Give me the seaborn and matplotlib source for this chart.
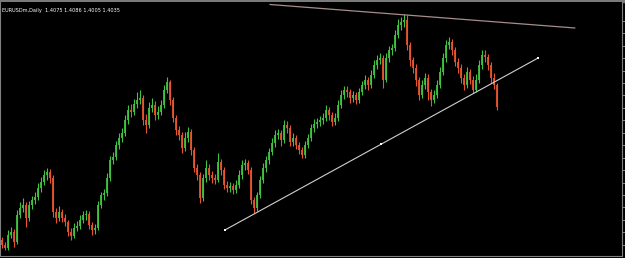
import numpy as np
import pandas as pd
import matplotlib
matplotlib.use("Agg")
import matplotlib.pyplot as plt
import seaborn as sns

# ---- data (price per bar) ----
first_open = 1.270
closes = [1.265, 1.262, 1.275, 1.278, 1.268, 1.295, 1.302, 1.305, 1.292, 1.305,
          1.310, 1.313, 1.322, 1.328, 1.335, 1.338, 1.332, 1.298, 1.292, 1.298,
          1.292, 1.288, 1.278, 1.274, 1.282, 1.284, 1.290, 1.295, 1.296, 1.285,
          1.280, 1.282, 1.305, 1.315, 1.317, 1.332, 1.350, 1.353, 1.365, 1.372,
          1.377, 1.390, 1.400, 1.398, 1.406, 1.410, 1.412, 1.390, 1.385, 1.402,
          1.405, 1.395, 1.398, 1.405, 1.420, 1.428, 1.410, 1.392, 1.380, 1.375,
          1.362, 1.372, 1.378, 1.360, 1.342, 1.335, 1.312, 1.332, 1.342, 1.335,
          1.332, 1.330, 1.348, 1.340, 1.325, 1.322, 1.324, 1.320, 1.325, 1.335,
          1.345, 1.347, 1.340, 1.310, 1.302, 1.315, 1.330, 1.342, 1.350, 1.358,
          1.367, 1.375, 1.377, 1.370, 1.385, 1.382, 1.368, 1.372, 1.365, 1.360,
          1.355, 1.365, 1.372, 1.382, 1.386, 1.388, 1.390, 1.392, 1.400, 1.395,
          1.388, 1.392, 1.405, 1.415, 1.420, 1.418, 1.412, 1.415, 1.410, 1.418,
          1.425, 1.430, 1.425, 1.435, 1.445, 1.450, 1.452, 1.430, 1.452, 1.460,
          1.462, 1.475, 1.485, 1.488, 1.490, 1.465, 1.450, 1.442, 1.430, 1.415,
          1.425, 1.432, 1.418, 1.410, 1.415, 1.425, 1.438, 1.452, 1.465, 1.468,
          1.460, 1.448, 1.442, 1.432, 1.425, 1.438, 1.430, 1.420, 1.430, 1.445,
          1.455, 1.453, 1.445, 1.432, 1.425, 1.4035]
highs = [1.273, 1.268, 1.280, 1.283, 1.281, 1.300, 1.308, 1.312, 1.308, 1.309,
         1.314, 1.318, 1.327, 1.333, 1.340, 1.342, 1.341, 1.335, 1.302, 1.304,
         1.301, 1.296, 1.290, 1.282, 1.287, 1.289, 1.295, 1.299, 1.300, 1.299,
         1.288, 1.286, 1.309, 1.318, 1.321, 1.337, 1.354, 1.358, 1.369, 1.377,
         1.382, 1.395, 1.405, 1.406, 1.411, 1.418, 1.420, 1.415, 1.396, 1.408,
         1.412, 1.409, 1.404, 1.410, 1.425, 1.433, 1.430, 1.413, 1.395, 1.384,
         1.378, 1.378, 1.383, 1.381, 1.363, 1.346, 1.338, 1.336, 1.350, 1.346,
         1.339, 1.336, 1.357, 1.351, 1.343, 1.329, 1.328, 1.327, 1.330, 1.340,
         1.350, 1.351, 1.350, 1.343, 1.313, 1.318, 1.334, 1.347, 1.354, 1.362,
         1.372, 1.380, 1.381, 1.380, 1.390, 1.389, 1.385, 1.377, 1.375, 1.368,
         1.363, 1.369, 1.376, 1.386, 1.391, 1.392, 1.394, 1.397, 1.405, 1.403,
         1.398, 1.397, 1.410, 1.420, 1.424, 1.424, 1.421, 1.419, 1.418, 1.422,
         1.429, 1.435, 1.433, 1.440, 1.450, 1.455, 1.457, 1.455, 1.457, 1.464,
         1.466, 1.480, 1.491, 1.493, 1.496, 1.495, 1.468, 1.453, 1.446, 1.433,
         1.430, 1.437, 1.436, 1.421, 1.420, 1.430, 1.443, 1.457, 1.470, 1.473,
         1.471, 1.463, 1.452, 1.446, 1.436, 1.443, 1.441, 1.434, 1.436, 1.450,
         1.460, 1.460, 1.456, 1.448, 1.437, 1.427]
lows = [1.262, 1.260, 1.260, 1.272, 1.263, 1.266, 1.292, 1.298, 1.283, 1.289,
        1.301, 1.306, 1.310, 1.318, 1.325, 1.330, 1.327, 1.293, 1.287, 1.289,
        1.288, 1.284, 1.274, 1.270, 1.272, 1.279, 1.281, 1.287, 1.290, 1.281,
        1.275, 1.276, 1.280, 1.302, 1.310, 1.314, 1.329, 1.346, 1.350, 1.361,
        1.368, 1.374, 1.386, 1.393, 1.395, 1.402, 1.406, 1.385, 1.377, 1.382,
        1.398, 1.390, 1.391, 1.395, 1.402, 1.417, 1.405, 1.388, 1.375, 1.370,
        1.357, 1.359, 1.368, 1.355, 1.338, 1.330, 1.307, 1.309, 1.328, 1.330,
        1.327, 1.326, 1.328, 1.335, 1.321, 1.318, 1.318, 1.316, 1.317, 1.322,
        1.331, 1.340, 1.336, 1.306, 1.297, 1.299, 1.312, 1.327, 1.338, 1.346,
        1.355, 1.363, 1.371, 1.364, 1.367, 1.377, 1.364, 1.364, 1.361, 1.356,
        1.352, 1.352, 1.362, 1.369, 1.378, 1.382, 1.384, 1.386, 1.389, 1.390,
        1.384, 1.385, 1.389, 1.402, 1.411, 1.413, 1.407, 1.408, 1.406, 1.407,
        1.415, 1.421, 1.420, 1.422, 1.432, 1.441, 1.446, 1.422, 1.428, 1.448,
        1.455, 1.459, 1.472, 1.480, 1.483, 1.460, 1.444, 1.437, 1.424, 1.410,
        1.412, 1.421, 1.410, 1.404, 1.407, 1.412, 1.422, 1.435, 1.448, 1.461,
        1.455, 1.444, 1.437, 1.427, 1.420, 1.422, 1.426, 1.417, 1.418, 1.427,
        1.441, 1.448, 1.440, 1.427, 1.421, 1.4005]

# trend lines: (bar index, price)
top_line_x = [89.3, 191.0]
top_line_y = [1.5055, 1.4820]
support_x = [74.3, 126.5, 178.7]
support_y = [1.2800, 1.3660, 1.4520]

title_text = "EURUSDm,Daily  1.4075 1.4086 1.4005 1.4035"

# ---- build table ----
opens = [first_open] + closes[:-1]
df = pd.DataFrame({"bar": np.arange(len(closes)), "open": opens, "close": closes,
                   "high": highs, "low": lows})
df["high"] = df[["high", "open", "close"]].max(axis=1)
df["low"] = df[["low", "open", "close"]].min(axis=1)
df["dir"] = np.where(df["close"] >= df["open"], "up", "down")

sns.set_style("dark", {"axes.facecolor": "black", "figure.facecolor": "#808080",
                       "axes.edgecolor": "#808080", "grid.color": "black"})

fig = plt.figure(figsize=(6.25, 2.58), dpi=100)
ax = fig.add_axes([0.0, 2 / 258, 622 / 625, 254 / 258])
ax.set_facecolor("black")
fig.patch.set_facecolor("black")
# top grey strip
fig.add_artist(plt.Rectangle((0, 256 / 258), 1, 2 / 258, transform=fig.transFigure,
                             color="#7a7a7a", zorder=0))

palette = {"up": "#3fc43f", "down": "#e8542c"}
for d, sub in df.groupby("dir"):
    ax.vlines(sub["bar"], sub["low"], sub["high"], color=palette[d], linewidth=0.8)
    ax.vlines(sub["bar"], sub[["open", "close"]].min(axis=1),
              sub[["open", "close"]].max(axis=1), color=palette[d], linewidth=1.3)

tl = pd.DataFrame({"x": top_line_x, "y": top_line_y})
sns.lineplot(data=tl, x="x", y="y", ax=ax, color="#a88c8c", linewidth=0.9)
sl = pd.DataFrame({"x": support_x, "y": support_y})
sns.lineplot(data=sl, x="x", y="y", ax=ax, color="#cfcfcf", linewidth=0.8)
sns.scatterplot(data=sl, x="x", y="y", ax=ax, color="white", marker="s", s=3,
                linewidth=0, zorder=5)

ax.set_xlim(-0.667, 206.67)
ax.set_ylim(1.254, 1.508)
ax.set_xlabel("")
ax.set_ylabel("")
ax.grid(False)

# ticks (MT4 style, unlabeled)
xt = [(p - 2) / 3 for p in np.arange(21.7, 420, 20.7)]
ax.set_xticks(xt)
ax.set_xticklabels([])
yt = [1.510 - p / 1000 for p in np.arange(20.7, 256, 12.45)]
ax.set_yticks(yt)
ax.set_yticklabels([])
ax.yaxis.tick_right()
ax.tick_params(axis="both", colors="#808080", length=2.5, width=0.7, direction="out")
for s in ["left", "right", "bottom"]:
    ax.spines[s].set_visible(True)
    ax.spines[s].set_color("#808080")
    ax.spines[s].set_linewidth(0.8)
ax.spines["top"].set_visible(False)

ax.text(0.004, 0.975, title_text, transform=ax.transAxes, color="white",
        fontsize=3.6, ha="left", va="top", family="DejaVu Sans")

fig.savefig("out.png", dpi=100, facecolor=fig.get_facecolor())
